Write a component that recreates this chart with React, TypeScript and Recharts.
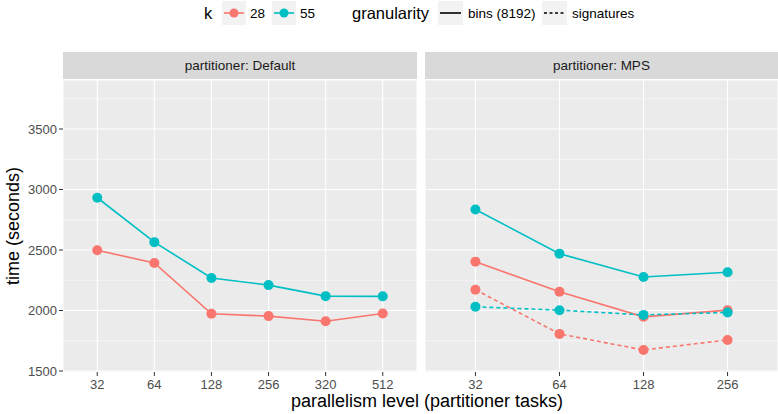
import React from 'react';
import { LineChart, Line, XAxis, YAxis, CartesianGrid, ReferenceLine } from 'recharts';

// partitioner: Default
const defaultTasks = ['32', '64', '128', '256', '320', '512'];
const defaultK28 = [2498, 2393, 1973, 1954, 1912, 1976];
const defaultK55 = [2932, 2565, 2269, 2210, 2119, 2117];

// partitioner: MPS
const mpsTasks = ['32', '64', '128', '256'];
const mpsBinsK28 = [2404, 2155, 1948, 2003];
const mpsBinsK55 = [2835, 2470, 2277, 2316];
const mpsSigK28 = [2172, 1807, 1674, 1757];
const mpsSigK55 = [2031, 2003, 1964, 1984];

const yTicks = [1500, 2000, 2500, 3000, 3500];
const yMinorTicks = [1750, 2250, 2750, 3250, 3750];
const yDomain: [number, number] = [1492, 3905];

const RED = '#F8766D';
const CYAN = '#00BFC4';
const FONT = '"Liberation Sans", Arial, Helvetica, sans-serif';

const defaultData = defaultTasks.map((task, i) => ({
  task,
  k28: defaultK28[i],
  k55: defaultK55[i],
}));

const mpsData = mpsTasks.map((task, i) => ({
  task,
  binsK28: mpsBinsK28[i],
  binsK55: mpsBinsK55[i],
  sigK28: mpsSigK28[i],
  sigK55: mpsSigK55[i],
}));

const TOP = 80;
const CHART_H = 392;
const X_AXIS_H = 20;
const LEFT_PANEL_W = 354;
const RIGHT_PANEL_W = 353;
const padFor = (w: number, n: number) => (0.6 * w) / (n - 1 + 1.2);

const tickStyle = { fill: '#4D4D4D', fontSize: 13, fontFamily: FONT };

const dot = (c: string) => ({ r: 5, fill: c, stroke: c, strokeWidth: 0 });

const Strip: React.FC<{ left: number; width: number; text: string }> = ({ left, width, text }) => (
  <div
    style={{
      position: 'absolute',
      left,
      top: 52,
      width,
      height: 27,
      background: '#D9D9D9',
      color: '#1A1A1A',
      fontSize: 13.5,
      lineHeight: '28px',
      textAlign: 'center',
      fontFamily: FONT,
    }}
  >
    {text}
  </div>
);

const PointKey: React.FC<{ color: string }> = ({ color }) => (
  <svg width={24} height={24} style={{ background: '#F2F2F2', display: 'block' }}>
    <line x1={2} x2={22} y1={12} y2={12} stroke={color} strokeWidth={1.6} />
    <circle cx={12} cy={12} r={4.5} fill={color} />
  </svg>
);

const LineKey: React.FC<{ dashed?: boolean }> = ({ dashed }) => (
  <svg width={25} height={24} style={{ background: '#F2F2F2', display: 'block' }}>
    <line
      x1={2}
      x2={23}
      y1={12}
      y2={12}
      stroke="#000"
      strokeWidth={1.6}
      strokeDasharray={dashed ? '3 2.5' : undefined}
    />
  </svg>
);

const At: React.FC<{ x: number; size?: number; children: React.ReactNode }> = ({ x, size, children }) => (
  <div
    style={{
      position: 'absolute',
      left: x,
      top: 1,
      height: 24,
      display: 'flex',
      alignItems: 'center',
      fontSize: size,
      color: '#000',
      whiteSpace: 'nowrap',
      fontFamily: FONT,
    }}
  >
    {children}
  </div>
);

const Legend: React.FC = () => (
  <>
    <At x={204} size={16.5}>k</At>
    <At x={222}><PointKey color={RED} /></At>
    <At x={250} size={13.5}>28</At>
    <At x={272}><PointKey color={CYAN} /></At>
    <At x={300} size={13.5}>55</At>
    <At x={352} size={16.5}>granularity</At>
    <At x={438}><LineKey /></At>
    <At x={468} size={13.5}>bins (8192)</At>
    <At x={542}><LineKey dashed /></At>
    <At x={572} size={13.5}>signatures</At>
  </>
);

const App: React.FC = () => {
  return (
    <div
      style={{
        position: 'absolute',
        left: 0,
        top: 0,
        width: 778,
        height: 414,
        background: '#FFFFFF',
        overflow: 'hidden',
        fontFamily: FONT,
      }}
    >
      <Legend />
      <Strip left={63} width={LEFT_PANEL_W} text="partitioner: Default" />
      <Strip left={425} width={RIGHT_PANEL_W} text="partitioner: MPS" />

      <div style={{ position: 'absolute', left: 0, top: 0 }}>
        <LineChart
          width={63 + LEFT_PANEL_W}
          height={CHART_H}
          data={defaultData}
          margin={{ top: TOP, right: 0, bottom: 0, left: 0 }}
        >
          <CartesianGrid fill="#EBEBEB" stroke="#FFFFFF" strokeWidth={1.1} />
          {yMinorTicks.map((v) => (
            <ReferenceLine key={v} y={v} stroke="#FFFFFF" strokeWidth={0.55} />
          ))}
          <XAxis
            dataKey="task"
            height={X_AXIS_H}
            padding={{ left: padFor(LEFT_PANEL_W, 6), right: padFor(LEFT_PANEL_W, 6) }}
            axisLine={false}
            tickLine={{ stroke: '#333333' }}
            tickSize={4}
            tickMargin={4}
            tick={tickStyle}
            interval={0}
          />
          <YAxis
            width={63}
            domain={yDomain}
            ticks={yTicks}
            type="number"
            allowDataOverflow
            axisLine={false}
            tickLine={{ stroke: '#333333' }}
            tickSize={4}
            tickMargin={2}
            tick={tickStyle}
          />
          <Line dataKey="k28" stroke={RED} strokeWidth={1.6} dot={dot(RED)} activeDot={false} isAnimationActive={false} />
          <Line dataKey="k55" stroke={CYAN} strokeWidth={1.6} dot={dot(CYAN)} activeDot={false} isAnimationActive={false} />
        </LineChart>
      </div>

      <div style={{ position: 'absolute', left: 417, top: 0 }}>
        <LineChart
          width={8 + RIGHT_PANEL_W}
          height={CHART_H}
          data={mpsData}
          margin={{ top: TOP, right: 0, bottom: 0, left: 8 }}
        >
          <CartesianGrid fill="#EBEBEB" stroke="#FFFFFF" strokeWidth={1.1} />
          {yMinorTicks.map((v) => (
            <ReferenceLine key={v} y={v} stroke="#FFFFFF" strokeWidth={0.55} />
          ))}
          <XAxis
            dataKey="task"
            height={X_AXIS_H}
            padding={{ left: padFor(RIGHT_PANEL_W, 4), right: padFor(RIGHT_PANEL_W, 4) }}
            axisLine={false}
            tickLine={{ stroke: '#333333' }}
            tickSize={4}
            tickMargin={4}
            tick={tickStyle}
            interval={0}
          />
          <YAxis hide domain={yDomain} ticks={yTicks} type="number" allowDataOverflow />
          <Line dataKey="binsK28" stroke={RED} strokeWidth={1.6} dot={dot(RED)} activeDot={false} isAnimationActive={false} />
          <Line dataKey="sigK28" stroke={RED} strokeWidth={1.6} strokeDasharray="4 3" dot={dot(RED)} activeDot={false} isAnimationActive={false} />
          <Line dataKey="binsK55" stroke={CYAN} strokeWidth={1.6} dot={dot(CYAN)} activeDot={false} isAnimationActive={false} />
          <Line dataKey="sigK55" stroke={CYAN} strokeWidth={1.6} strokeDasharray="4 3" dot={dot(CYAN)} activeDot={false} isAnimationActive={false} />
        </LineChart>
      </div>

      <div
        style={{
          position: 'absolute',
          left: 13,
          top: 226,
          transform: 'translate(-50%, -50%) rotate(-90deg)',
          fontSize: 18,
          whiteSpace: 'nowrap',
          color: '#000',
        }}
      >
        time (seconds)
      </div>
      <div
        style={{
          position: 'absolute',
          left: 63,
          width: 728,
          top: 391,
          textAlign: 'center',
          fontSize: 18,
          lineHeight: '20px',
          color: '#000',
        }}
      >
        parallelism level (partitioner tasks)
      </div>
    </div>
  );
};

export default App;
